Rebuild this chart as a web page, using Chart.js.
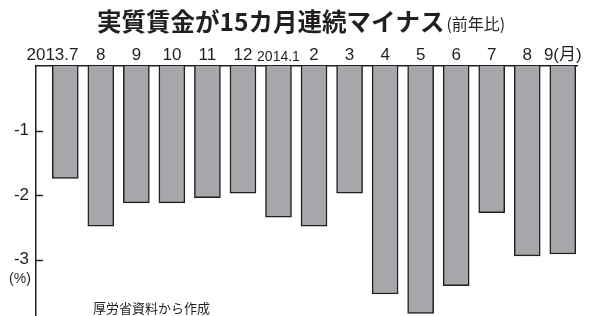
<!DOCTYPE html>
<html>
<head>
<meta charset="utf-8">
<script src="https://cdn.jsdelivr.net/npm/chart.js@4.4.1/dist/chart.umd.min.js"></script>
<style>
  html, body { margin: 0; padding: 0; background: #fff; }
</style>
</head>
<body>
<canvas id="grafica" width="595" height="316"></canvas>
<script>
// Datos: salario real, variación anual (%)
const meses = ['2013.7', '8', '9', '10', '11', '12', '2014.1', '2', '3', '4', '5', '6', '7', '8', '9(月)'];
const salarioReal = [-1.74, -2.48, -2.12, -2.12, -2.04, -1.97, -2.34, -2.48, -1.97, -3.53, -3.83, -3.40, -2.27, -2.94, -2.91];
const ticksY = [-3, -2, -1];

const titulo = '実質賃金が15カ月連続マイナス';
const subtitulo = '(前年比)';
const unidad = '(%)';
const fuente = '厚労省資料から作成';

const tinta = '#231f20';
const familia = '"Liberation Sans", "Noto Sans CJK JP", sans-serif';
const familiaJp = '"Noto Sans CJK JP", sans-serif';

// Textos y marcas del eje que Chart.js no dibuja solo
const decoracion = {
    id: 'decoracion',
    afterDraw(chart) {
        const ctx = chart.ctx;
        const ejeY = chart.scales.y;
        const area = chart.chartArea;
        ctx.save();
        ctx.strokeStyle = tinta;
        ctx.lineWidth = 1.5;
        // marcas hacia dentro
        for (const v of ticksY) {
            const y = Math.round(ejeY.getPixelForValue(v)) + 0.5;
            ctx.beginPath();
            ctx.moveTo(area.left, y);
            ctx.lineTo(area.left + 7, y);
            ctx.stroke();
        }
        ctx.fillStyle = tinta;
        // titulo
        ctx.textBaseline = 'alphabetic';
        ctx.textAlign = 'left';
        ctx.font = 'bold 24.5px ' + familiaJp;
        const anchoTit = ctx.measureText(titulo).width;
        let x = 97;
        ctx.fillText(titulo, x, 31);
        ctx.font = '16px ' + familiaJp;
        ctx.fillText(subtitulo, x + anchoTit + 2, 30);
        // unidad
        ctx.textAlign = 'center';
        ctx.textBaseline = 'middle';
        ctx.font = '14px ' + familia;
        ctx.fillText(unidad, 20, 279);
        // fuente
        ctx.textAlign = 'left';
        ctx.font = '13px ' + familiaJp;
        ctx.fillText(fuente, 93, 308);
        ctx.restore();
    }
};

const ctx = document.getElementById('grafica').getContext('2d');
new Chart(ctx, {
    type: 'bar',
    data: {
        datasets: [{
            data: salarioReal.map((v, i) => ({ x: i, y: v })),
            backgroundColor: '#a6a7aa',
            borderColor: tinta,
            borderWidth: 1.5,
            barThickness: 26
        }]
    },
    options: {
        responsive: false,
        animation: false,
        layout: { padding: { top: 0, right: 18, bottom: 0, left: 0 } },
        plugins: {
            legend: { display: false },
            tooltip: { enabled: false }
        },
        scales: {
            x: {
                type: 'linear',
                position: 'top',
                offset: false,
                min: -0.824,
                max: 14.4,
                // la primera etiqueta va algo corrida a la izquierda, como en el original
                afterBuildTicks: (s) => { s.ticks = meses.map((m, i) => ({ value: i === 0 ? -0.36 : i })); },
                afterFit: (s) => { s.height = 66; s.paddingLeft = 0; s.paddingRight = 0; },
                grid: { display: false, drawTicks: false },
                border: { display: true, color: tinta, width: 1.5 },
                ticks: {
                    autoSkip: false,
                    maxRotation: 0,
                    padding: 0,
                    color: tinta,
                    font: (c) => ({ family: familia, size: c.index === 6 ? 14 : 17 }),
                    callback: (v, i) => meses[i]
                }
            },
            y: {
                min: -3.87,
                max: 0,
                afterBuildTicks: (s) => { s.ticks = ticksY.map(v => ({ value: v })); },
                afterFit: (s) => { s.width = 36; s.paddingTop = 0; s.paddingBottom = 0; },
                grid: { display: false, drawTicks: false },
                border: { display: true, color: tinta, width: 1.5 },
                ticks: {
                    padding: 7,
                    color: tinta,
                    font: { family: familia, size: 17 },
                    callback: (v) => String(v)
                }
            }
        }
    },
    plugins: [decoracion]
});
</script>
</body>
</html>
